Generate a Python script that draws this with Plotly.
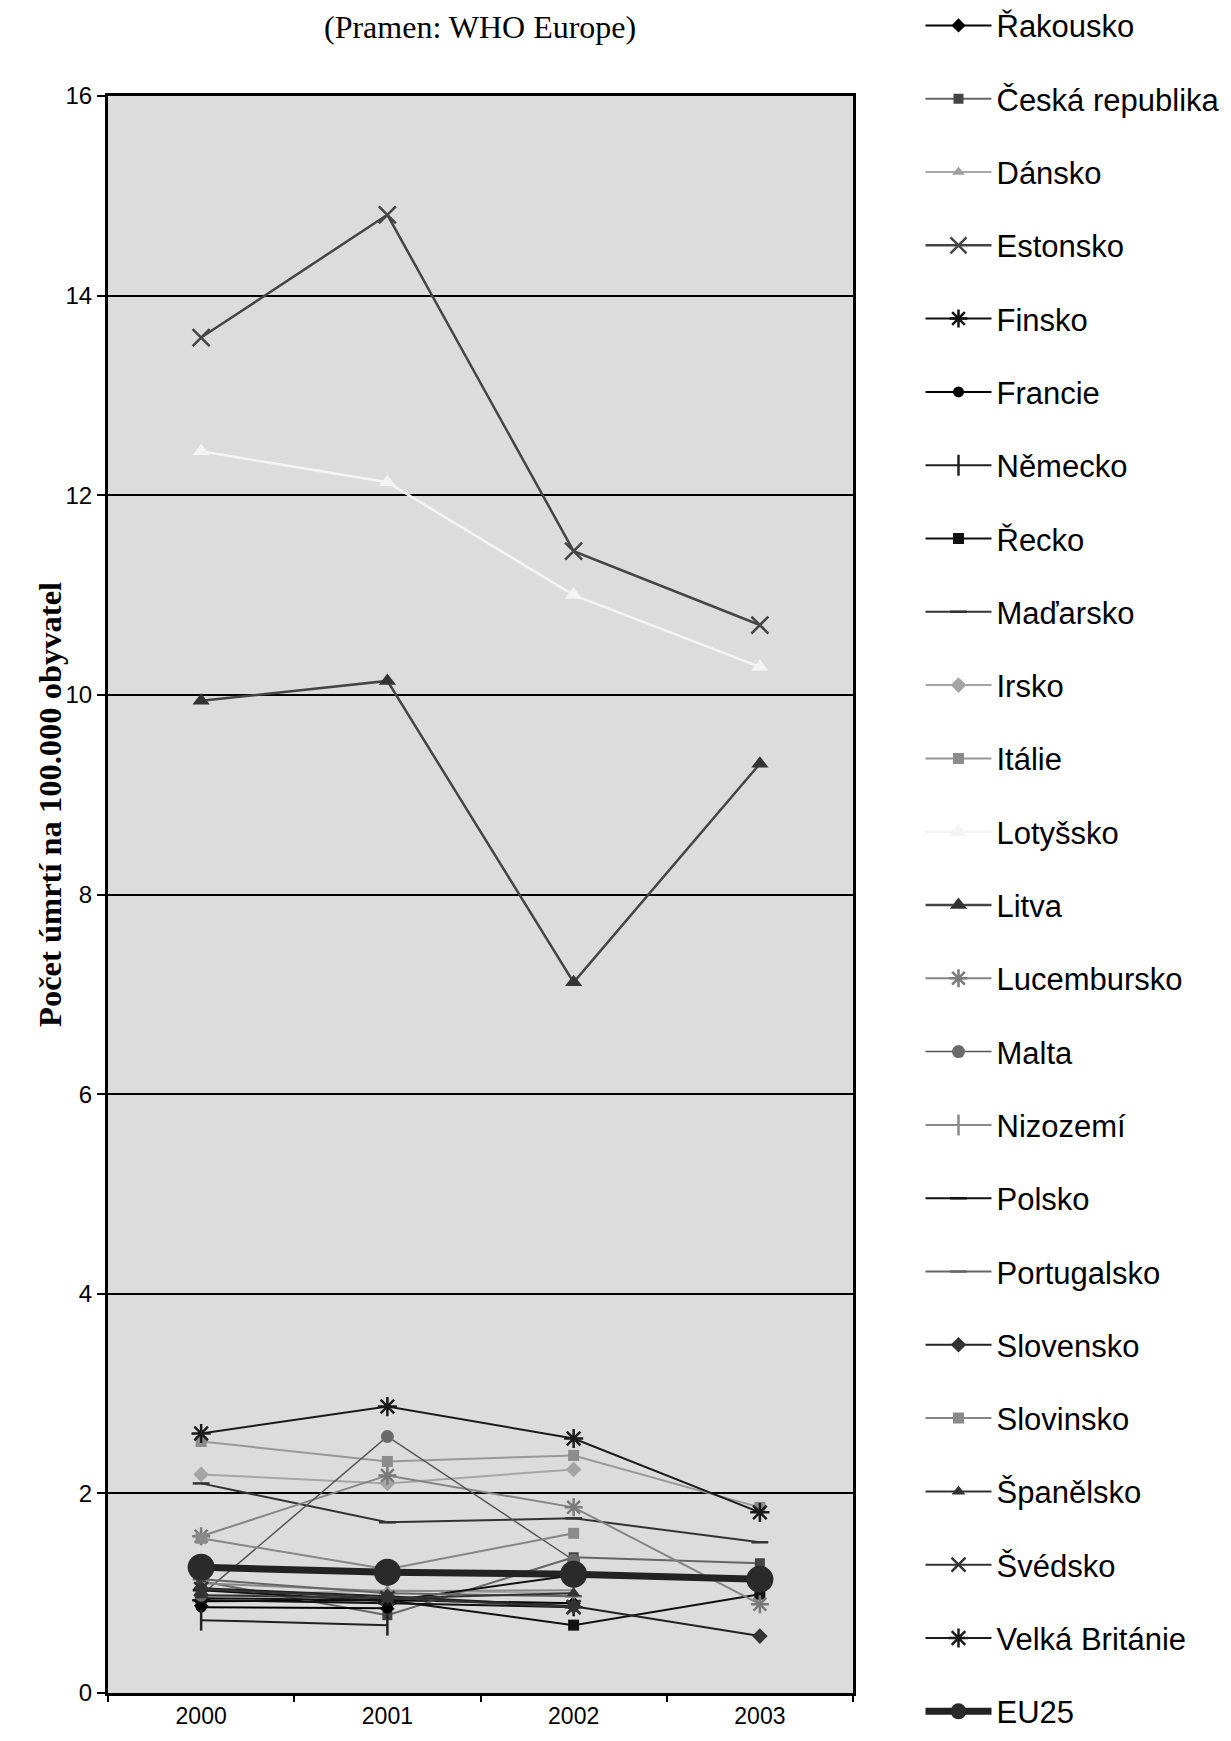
import plotly.graph_objects as go

years = ["2000", "2001", "2002", "2003"]

names = ["Řakousko", "Česká republika", "Dánsko", "Estonsko", "Finsko", "Francie",
         "Německo", "Řecko", "Maďarsko", "Irsko", "Itálie", "Lotyšsko", "Litva",
         "Lucembursko", "Malta", "Nizozemí", "Polsko", "Portugalsko", "Slovensko",
         "Slovinsko", "Španělsko", "Švédsko", "Velká Británie", "EU25"]

rakousko = [0.92, 0.93, 0.90, None]
ceska = [1.12, 0.78, 1.36, 1.30]
dansko = [0.97, 1.03, 1.00, None]
estonsko = [13.58, 14.81, 11.44, 10.70]
finsko = [0.93, 0.90, 0.86, None]
francie = [0.86, 0.85, None, None]
nemecko = [0.73, 0.68, None, None]
recko = [0.95, 0.93, 0.68, 0.99]
madarsko = [2.10, 1.71, 1.75, 1.51]
irsko = [2.19, 2.10, 2.24, None]
italie = [2.52, 2.32, 2.38, 1.86]
lotyssko = [12.44, 12.13, 11.00, 10.28]
litva = [9.94, 10.14, 7.12, 9.31]
lucembursko = [1.57, 2.18, 1.86, 0.89]
malta = [0.98, 2.57, 1.33, None]
nizozemi = [1.10, 1.02, 1.03, None]
polsko = [1.03, 0.92, 1.18, None]
portugalsko = [1.14, 1.00, 0.97, None]
slovensko = [1.05, 0.97, 0.87, 0.57]
slovinsko = [1.55, 1.24, 1.60, None]
spanelsko = [0.98, 0.95, 1.00, None]
svedsko = [1.04, 0.95, 0.86, None]
velka_britanie = [2.60, 2.87, 2.55, 1.81]
eu25 = [1.26, 1.21, 1.19, 1.14]

values = [rakousko, ceska, dansko, estonsko, finsko, francie, nemecko, recko,
          madarsko, irsko, italie, lotyssko, litva, lucembursko, malta, nizozemi,
          polsko, portugalsko, slovensko, slovinsko, spanelsko, svedsko,
          velka_britanie, eu25]

# (line color, line width, marker symbol, marker size, marker color)
styles = [
    ("#000000", 2, "diamond", 11, "#000000"),
    ("#666666", 2, "square", 10, "#444444"),
    ("#a8a8a8", 2, "triangle-up", 11, "#a0a0a0"),
    ("#454545", 2.5, "x-thin-open", 17, "#454545"),
    ("#111111", 2, "asterisk-open", 15, "#111111"),
    ("#000000", 2, "circle", 11, "#000000"),
    ("#222222", 2, "line-ns-open", 15, "#222222"),
    ("#111111", 2, "square", 11, "#111111"),
    ("#333333", 2, "line-ew-open", 12, "#333333"),
    ("#a5a5a5", 2, "diamond", 12, "#a5a5a5"),
    ("#989898", 2, "square", 11, "#8c8c8c"),
    ("#f4f4f4", 2.5, "triangle-up", 15, "#f4f4f4"),
    ("#454545", 2.5, "triangle-up", 15, "#333333"),
    ("#858585", 2, "asterisk-open", 15, "#7a7a7a"),
    ("#555555", 1.5, "circle", 13, "#6a6a6a"),
    ("#8a8a8a", 2, "line-ns-open", 15, "#8a8a8a"),
    ("#111111", 2, "line-ew-open", 12, "#111111"),
    ("#666666", 2, "line-ew-open", 12, "#666666"),
    ("#222222", 2, "diamond", 12, "#333333"),
    ("#858585", 2, "square", 11, "#8a8a8a"),
    ("#333333", 2, "triangle-up", 12, "#333333"),
    ("#333333", 2, "x-thin-open", 14, "#333333"),
    ("#1a1a1a", 2, "asterisk-open", 16, "#1a1a1a"),
    ("#222222", 7, "circle", 27, "#2a2a2a"),
]

fig = go.Figure()
for name, vals, (lc, lw, sym, ms, mc) in zip(names, values, styles):
    open_sym = sym.endswith("-open")
    fig.add_trace(go.Scatter(
        x=years, y=vals, name=name, mode="lines+markers",
        legendgroup=name,
        line=dict(color=lc, width=lw),
        marker=dict(symbol=sym, size=ms, color=mc,
                    line=dict(color=mc, width=2.5 if open_sym else 0)),
        connectgaps=False,
    ))

fig.update_layout(
    width=1215, height=1725,
    margin=dict(l=100, r=370, t=88, b=40, autoexpand=False),
    paper_bgcolor="white",
    plot_bgcolor="#dcdcdc",
    font=dict(family="Liberation Sans, Arial, sans-serif", color="black"),
    showlegend=True,
    legend=dict(
        x=1.0906, xanchor="left", y=1.0609, yanchor="top",
        maxheight=2000,
        font=dict(size=31, family="Liberation Sans, Arial, sans-serif", color="black"),
        tracegroupgap=30, itemwidth=66, bgcolor="rgba(0,0,0,0)",
        borderwidth=0,
    ),
    annotations=[
        dict(text="(Pramen: WHO Europe)", xref="paper", yref="paper",
             x=0.4993, y=1.0435, xanchor="center", yanchor="middle", showarrow=False,
             font=dict(family="Liberation Serif, Times New Roman, serif", size=32)),
        dict(text="<b>Počet úmrtí na 100.000 obyvatel</b>", xref="paper", yref="paper",
             x=-0.0779, y=0.5567, xanchor="center", yanchor="middle", showarrow=False,
             textangle=-90,
             font=dict(family="Liberation Serif, Times New Roman, serif", size=32.5)),
    ],
)

fig.update_xaxes(
    type="category", range=[-0.5, 3.5],
    showline=True, linecolor="black", linewidth=3, mirror=True,
    ticks="outside", tickson="boundaries", ticklen=6, tickwidth=1.5, tickcolor="black",
    ticklabelstandoff=0,
    showgrid=False,
    tickfont=dict(size=23, family="Liberation Sans, Arial, sans-serif"),
)
fig.update_yaxes(
    range=[0, 16], dtick=2, tick0=0,
    showline=True, linecolor="black", linewidth=3, mirror=True,
    ticks="outside", ticklen=8, tickwidth=2, tickcolor="black",
    showgrid=True, gridcolor="black", gridwidth=1.5, zeroline=False,
    tickfont=dict(size=24, family="Liberation Sans, Arial, sans-serif"),
)

fig.write_html("out.html")
